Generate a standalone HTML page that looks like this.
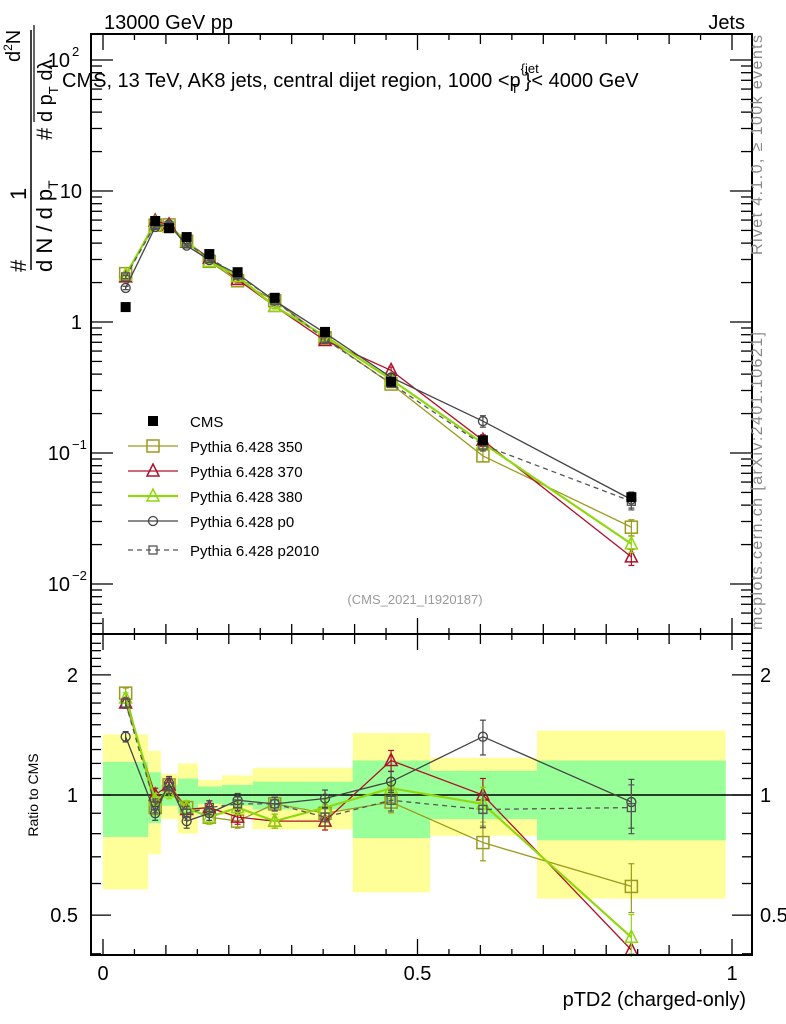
<!DOCTYPE html>
<html><head><meta charset="utf-8"><style>
html,body{margin:0;padding:0;background:#fff}
svg{display:block;font-family:"Liberation Sans",sans-serif}
</style></head><body>
<svg id="plot" width="786" height="1024" viewBox="0 0 786 1024">
<defs>
<clipPath id="clipMain"><rect x="91" y="34" width="661" height="600"/></clipPath>
<clipPath id="clipRatio"><rect x="91" y="634" width="661" height="323"/></clipPath>
</defs>
<g id="bands" clip-path="url(#clipRatio)"></g>
<g id="marksMain" clip-path="url(#clipMain)"></g>
<g id="marksRatio" clip-path="url(#clipRatio)"></g>
<g id="axes"></g>
<text x="104" y="29" font-size="20">13000 GeV pp</text>
<text x="745" y="29" font-size="20" text-anchor="end">Jets</text>
<text x="62" y="87" font-size="20">CMS, 13 TeV, AK8 jets, central dijet region, 1000 &lt;p<tspan font-size="13" dy="-14">{jet</tspan><tspan font-size="13" dx="-28" dy="20">T</tspan><tspan dy="-6" dx="6">}&lt; 4000 GeV</tspan></text>
<text x="415" y="604" font-size="13" fill="#999" text-anchor="middle">(CMS_2021_I1920187)</text>
<text transform="translate(762,255) rotate(-90)" font-size="16" fill="#888" textLength="220">Rivet 4.1.0, ≥ 100k events</text>
<text transform="translate(762,630) rotate(-90)" font-size="16" fill="#888" textLength="298">mcplots.cern.ch [arXiv:2401.10621]</text>
<g font-size="22">
<text transform="translate(26,272) rotate(-90)">#</text>
<text transform="translate(26,200) rotate(-90)">1</text>
<line x1="31" y1="270" x2="31" y2="30" stroke="#000" stroke-width="1.5"/>
<text transform="translate(52,272) rotate(-90)">d N / d p<tspan font-size="14" dy="6">T</tspan></text>
<text transform="translate(52,140) rotate(-90)">#</text>
<text transform="translate(20,62) rotate(-90)" font-size="20">d<tspan font-size="12" dy="-8">2</tspan><tspan dy="8">N</tspan></text>
<line x1="34" y1="122" x2="34" y2="25" stroke="#000" stroke-width="1.2"/>
<text transform="translate(52,122) rotate(-90)" font-size="20">d p<tspan font-size="13" dy="6">T</tspan><tspan dy="-6"> dλ</tspan></text>
</g>
<text transform="translate(38,795) rotate(-90)" font-size="14" text-anchor="middle">Ratio to CMS</text>
<text x="746" y="1006" font-size="20" text-anchor="end">pTD2 (charged-only)</text>
<g id="legend"></g>
</svg>
<script>
const edges=[0,0.072,0.092,0.119,0.151,0.189,0.238,0.31,0.397,0.52,0.69,0.99];
const cms=[1.3,5.9,5.2,4.45,3.3,2.4,1.53,0.84,0.35,0.125,0.046];
const yellowHi=[1.42,1.29,1.13,1.2,1.09,1.12,1.17,1.17,1.43,1.24,1.45];
const yellowLo=[0.58,0.71,0.87,0.8,0.91,0.89,0.82,0.82,0.57,0.79,0.55];
const greenHi=[1.21,1.14,1.06,1.1,1.05,1.06,1.08,1.08,1.22,1.15,1.22];
const greenLo=[0.785,0.85,0.94,0.9,0.95,0.94,0.92,0.92,0.78,0.87,0.77];
const r350=[1.8,0.93,1.06,0.93,0.88,0.86,0.95,0.9,0.96,0.76,0.59];
const r370=[1.7,1.0,1.06,0.92,0.93,0.88,0.86,0.86,1.22,1.0,0.35];
const r380=[1.75,0.97,1.02,0.93,0.88,0.93,0.86,0.93,1.04,0.95,0.44];
const rp0=[1.4,0.9,1.07,0.86,0.9,0.97,0.95,0.98,1.08,1.4,0.96];
const rp2010=[1.7,0.94,1.05,0.9,0.93,0.95,0.95,0.88,0.97,0.92,0.93];
const relErr=[0.03,0.04,0.04,0.04,0.04,0.04,0.04,0.05,0.06,0.1,0.14];
const centers=[0.036,0.083,0.105,0.133,0.169,0.214,0.273,0.353,0.458,0.604,0.84];
const names=["Pythia 6.428 350","Pythia 6.428 370","Pythia 6.428 380","Pythia 6.428 p0","Pythia 6.428 p2010"];

const NS="http://www.w3.org/2000/svg";
const X0=91,X1=752,T=34,MB=634,RB=955;
const sx=v=>103+v*629;
const sy=v=>322-131*Math.log10(v);
const sr=v=>795-399*Math.log10(v);
function el(p,tag,at){const e=document.createElementNS(NS,tag);for(const k in at)e.setAttribute(k,at[k]);p.appendChild(e);return e;}
const bands=document.getElementById('bands'),mM=document.getElementById('marksMain'),mR=document.getElementById('marksRatio'),axes=document.getElementById('axes'),leg=document.getElementById('legend');

for(let i=0;i<cms.length;i++){
 const a=sx(edges[i]),b=sx(edges[i+1]);
 const y=el(bands,'rect',{x:a,y:sr(yellowHi[i]),width:b-a,height:sr(yellowLo[i])-sr(yellowHi[i]),fill:'#ffff99'});
 
 
 const g=el(bands,'rect',{x:a,y:sr(greenHi[i]),width:b-a,height:sr(greenLo[i])-sr(greenHi[i]),fill:'#99ff99'});
 
 
}
el(bands,'line',{x1:X0,x2:X1,y1:sr(1),y2:sr(1),stroke:'#000','stroke-width':1.5});

function marker(p,type,x,y,c){
 let m;
 if(type==='sq') m=el(p,'rect',{x:x-6,y:y-6,width:12,height:12,fill:'none',stroke:c,'stroke-width':1.5});
 else if(type==='sqs') m=el(p,'rect',{x:x-4,y:y-4,width:8,height:8,fill:'none',stroke:c,'stroke-width':1.3});
 else if(type==='tri') m=el(p,'polygon',{points:`${x},${y-7} ${x-6},${y+5} ${x+6},${y+5}`,fill:'none',stroke:c,'stroke-width':1.5});
 else if(type==='circ') m=el(p,'circle',{cx:x,cy:y,r:4.5,fill:'none',stroke:c,'stroke-width':1.3});
 else m=el(p,'rect',{x:x-5,y:y-5,width:10,height:10,fill:c});
 return m;
}
function ebar(p,x,y1,y2,c){
 el(p,'line',{x1:x,x2:x,y1:y1,y2:y2,stroke:c,'stroke-width':1.2});
 el(p,'line',{x1:x-3,x2:x+3,y1:y1,y2:y1,stroke:c,'stroke-width':1.2});
 el(p,'line',{x1:x-3,x2:x+3,y1:y2,y2:y2,stroke:c,'stroke-width':1.2});
}
const series=[[r350,'#9a9a1a','sq',''],[r370,'#b0102a','tri',''],[r380,'#8fd80f','tri',''],[rp0,'#444','circ',''],[rp2010,'#555','sqs','5,4']];
series.forEach((s,k)=>{
 const [r,c,t,d]=s;
 const w=(k===2)?2.2:1.3;
 const mp=r.map((v,i)=>sx(centers[i])+','+sy(v*cms[i])).join(' ');
 const l=el(mM,'polyline',{points:mp,fill:'none',stroke:c,'stroke-width':w,'stroke-dasharray':d});
 
 
 const rp=r.map((v,i)=>sx(centers[i])+','+Math.min(sr(v),950)).join(' ');
 const l2=el(mR,'polyline',{points:rp,fill:'none',stroke:c,'stroke-width':w,'stroke-dasharray':d});
 
 
 r.forEach((v,i)=>{
  const x=sx(centers[i]),e=relErr[i];
  ebar(mM,x,sy(v*cms[i]*(1+e)),sy(v*cms[i]*(1-e)),c);
  ebar(mR,x,sr(v*(1+e)),sr(v*(1-e)),c);
  const m1=marker(mM,t,x,sy(v*cms[i]),c);
  
  
  const m2=marker(mR,t,x,Math.min(sr(v),950),c);
  
  
 });
});
cms.forEach((v,i)=>{
 const m=marker(mM,'cms',sx(centers[i]),sy(v),'#000');
 
 
});

el(axes,'rect',{x:X0,y:T,width:X1-X0,height:MB-T,fill:'none',stroke:'#000','stroke-width':2});
el(axes,'rect',{x:X0,y:MB,width:X1-X0,height:RB-MB,fill:'none',stroke:'#000','stroke-width':2});
for(let i=0;i<=20;i++){
 const v=i*0.05,x=sx(v);const L=(i%10===0)?16:(i%2===0?10:6);
 [[MB,-1],[RB,-1],[T,1],[MB,1]].forEach(([y,d])=>el(axes,'line',{x1:x,x2:x,y1:y,y2:y+d*L,stroke:'#000','stroke-width':1.3}));
}
[['0',0],['0.5',0.5],['1',1]].forEach(([t,v])=>{const e=el(axes,'text',{x:sx(v),y:980,'font-size':20,'text-anchor':'middle'});e.textContent=t;});
for(let e=-3;e<=2;e++){for(let m=1;m<10;m++){const v=m*Math.pow(10,e),y=sy(v);if(y<T||y>MB)continue;const L=m===1?22:11;
 el(axes,'line',{x1:X0,x2:X0+L,y1:y,y2:y,stroke:'#000','stroke-width':1.3});el(axes,'line',{x1:X1,x2:X1-L,y1:y,y2:y,stroke:'#000','stroke-width':1.3});}}
[[1,'1'],[10,'10']].forEach(([v,t])=>{const e=el(axes,'text',{x:82,y:sy(v)+7,'font-size':20,'text-anchor':'end'});e.textContent=t;});
[[0.1,-1],[0.01,-2],[100,2]].forEach(([v,p])=>{const e=el(axes,'text',{x:70,y:sy(v)+7,'font-size':20,'text-anchor':'end'});e.textContent='10';const s=el(axes,'text',{x:72,y:sy(v)-4,'font-size':13});s.textContent=String(p).replace('-','−');});
for(let v=0.4;v<=2.5;v+=0.1){const y=sr(v);if(y<MB||y>RB)continue;const maj=Math.abs(v-0.5)<1e-6||Math.abs(v-1)<1e-6||Math.abs(v-2)<1e-6;const L=maj?20:10;
 el(axes,'line',{x1:X0,x2:X0+L,y1:y,y2:y,stroke:'#000','stroke-width':1.3});el(axes,'line',{x1:X1,x2:X1-L,y1:y,y2:y,stroke:'#000','stroke-width':1.3});}
[[2,'2'],[1,'1'],[0.5,'0.5']].forEach(([v,t])=>{let e=el(axes,'text',{x:78,y:sr(v)+7,'font-size':20,'text-anchor':'end'});e.textContent=t;e=el(axes,'text',{x:760,y:sr(v)+7,'font-size':20});e.textContent=t;});

const ly=[421,446,471,496,521,550];
let m=marker(leg,'cms',153,ly[0],'#000');


let t=el(leg,'text',{x:190,y:ly[0]+6,'font-size':15});t.textContent='CMS';
series.forEach((s,k)=>{
 const y=ly[k+1];
 el(leg,'line',{x1:128,x2:178,y1:y,y2:y,stroke:s[1],'stroke-width':(k===2)?2.2:1.3,'stroke-dasharray':s[3]});
 const mm=marker(leg,s[2],153,y,s[1]);
 
 
 const tt=el(leg,'text',{x:190,y:y+6,'font-size':15});tt.textContent=names[k];
});
</script>
</body></html>
